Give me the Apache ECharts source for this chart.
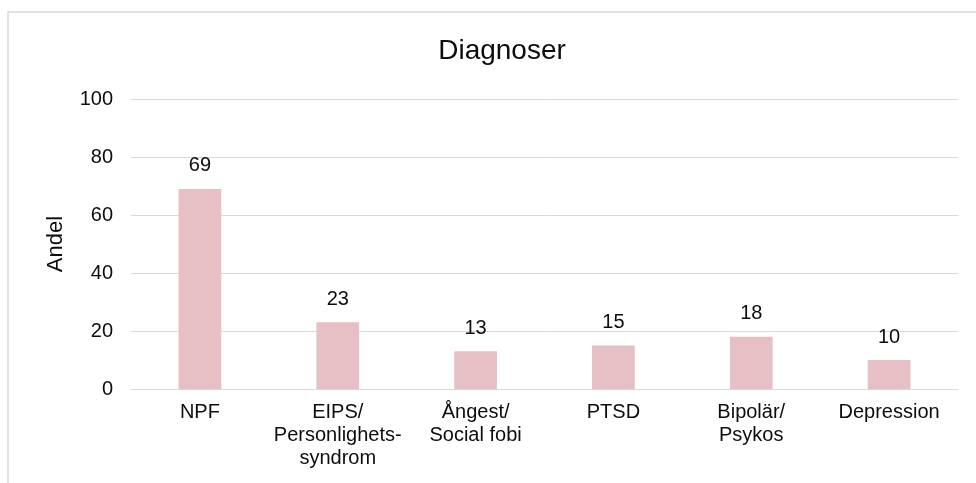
<!DOCTYPE html>
<html>
<head>
<meta charset="utf-8">
<script src="https://cdn.jsdelivr.net/npm/echarts@6/dist/echarts.min.js"></script>
<style>html,body{margin:0;padding:0;background:#fff;}#c{width:976px;height:483px;}</style>
</head>
<body>
<div id="c"></div>
<script>
const categories = ["NPF", "EIPS/\nPersonlighets-\nsyndrom", "Ångest/\nSocial fobi", "PTSD", "Bipolär/\nPsykos", "Depression"];
const values = [69, 23, 13, 15, 18, 10];
const yTicks = { min: 0, max: 100, interval: 20 };
const titleText = "Diagnoser";
const yName = "Andel";

const chart = echarts.init(document.getElementById('c'), null, { renderer: 'canvas' });
const font = '"Liberation Sans", Arial, sans-serif';
chart.setOption({
  animation: false,
  backgroundColor: '#fff',
  graphic: [{
    type: 'rect', silent: true, z: -1,
    shape: { x: 8, y: 12, width: 1000, height: 520 },
    style: { fill: 'none', stroke: '#d9d9d9', lineWidth: 1.5 }
  }],
  title: {
    text: titleText, left: 497, top: 32, textAlign: 'center',
    textStyle: { fontFamily: font, fontSize: 28, fontWeight: 'normal', color: '#0d0d0d' }
  },
  grid: { left: 131, right: 18, top: 99, bottom: 94, containLabel: false },
  xAxis: {
    type: 'category', data: categories,
    axisLine: { show: true, lineStyle: { color: '#d9d9d9', width: 1 } },
    axisTick: { show: false },
    axisLabel: { interval: 0, margin: 12, fontFamily: font, fontSize: 20, lineHeight: 23, color: '#0d0d0d' }
  },
  yAxis: {
    type: 'value', min: yTicks.min, max: yTicks.max, interval: yTicks.interval,
    name: yName, nameLocation: 'middle', nameGap: 64, nameRotate: 90,
    nameTextStyle: { fontFamily: font, fontSize: 22, color: '#0d0d0d' },
    axisLine: { show: false }, axisTick: { show: false },
    splitLine: { lineStyle: { color: '#d9d9d9', width: 1 } },
    axisLabel: { margin: 18, fontFamily: font, fontSize: 20, color: '#0d0d0d' }
  },
  series: [{
    type: 'bar', data: values, barWidth: '31%',
    itemStyle: { color: '#e6c0c4' },
    label: { show: true, position: 'top', distance: 13, fontFamily: font, fontSize: 20, color: '#0d0d0d' }
  }]
});
</script>
</body>
</html>
